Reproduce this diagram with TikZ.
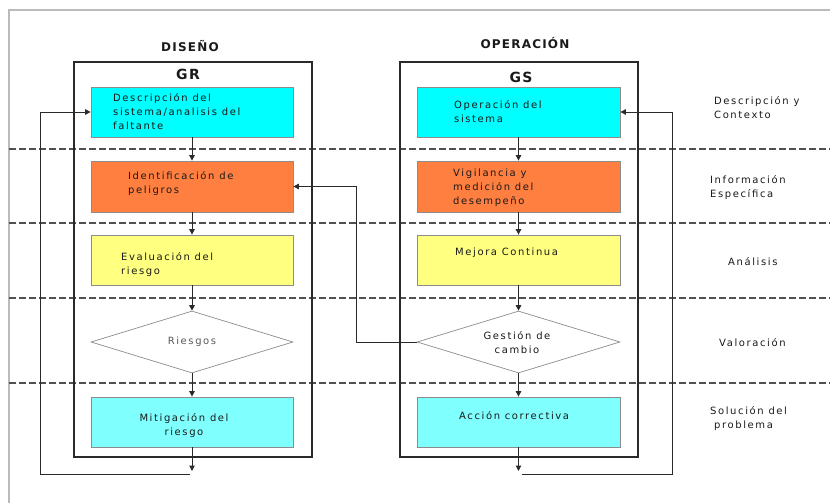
\documentclass[tikz,border=0pt]{standalone}
\usepackage{fontspec}
\setmainfont{DejaVu Sans}
\newfontfamily\lblfont[LetterSpace=16]{DejaVu Sans}
\newfontfamily\ttlfont[LetterSpace=10]{DejaVu Sans}
\usetikzlibrary{arrows.meta,shapes.geometric}
\definecolor{cyanbox}{HTML}{00FFFF}
\definecolor{lightcyanbox}{HTML}{80FFFF}
\definecolor{orangebox}{HTML}{FF7F40}
\definecolor{yellowbox}{HTML}{FFFF80}
\definecolor{boxgray}{HTML}{8C8C8C}
\definecolor{linedark}{HTML}{2A2A2A}
\definecolor{framegray}{HTML}{BBBBBB}
\definecolor{dashgray}{HTML}{505050}
\definecolor{txtdark}{HTML}{1A1A1A}
\begin{document}
\begin{tikzpicture}[x=1pt,y=-1pt,
  box/.style={draw=boxgray, line width=0.8pt, minimum width=202pt, minimum height=50pt, inner sep=0pt},
  dia/.style={diamond, draw=boxgray, line width=0.7pt, fill=white, minimum width=202pt, minimum height=62pt, inner sep=0pt},
  outer/.style={draw=linedark, line width=1.1pt, minimum width=238pt, minimum height=395pt, inner sep=0pt},
  lbl/.style={inner sep=0pt, text=txtdark, font=\lblfont\fontsize{10}{14}\selectfont},
  ttl/.style={inner sep=0pt, text=txtdark, font=\ttlfont\bfseries\fontsize{12}{14}\selectfont},
  ttlbig/.style={inner sep=0pt, text=txtdark, font=\ttlfont\bfseries\fontsize{14}{16}\selectfont},
  flow/.style={draw=linedark, line width=1pt, -{Triangle[length=5.5pt,width=5.5pt]}},
  sep/.style={draw=dashgray, line width=1.2pt, dash pattern=on 7pt off 3pt}
]
\useasboundingbox (0,0) rectangle (830,503);
% frame
\draw[framegray, line width=1.5pt] (830,10) -- (9,10) -- (9,503);
% dashed separators
\foreach \yy in {149,223,298,383} \draw[sep] (9,\yy) -- (830,\yy);
% outer boxes
\node[outer] (GR) at (193,259.5) {};
\node[outer] (GS) at (519,259.5) {};
\node[ttl] (dis) at (190,46) {DISEÑO};
\node[ttl] (ope) at (525,43) {OPERACIÓN};
\node[ttlbig] (grt) at (188,74) {GR};
\node[ttlbig] (gst) at (521,77) {GS};
% left column
\node[box, fill=cyanbox] (l1) at (192,112) {};
\node[box, fill=orangebox, minimum height=51pt] (l2) at (192,186.5) {};
\node[box, fill=yellowbox] (l3) at (192,260) {};
\node[dia] (l4) at (192,342) {};
\node[box, fill=lightcyanbox] (l5) at (192,422) {};
\node[lbl, anchor=west, align=left] (l1t) at (113,112) {Descripción del\\sistema/analisis del\\faltante};
\node[lbl, anchor=west, align=left] (l2t) at (128,184) {Identificación de\\peligros};
\node[lbl, anchor=west, align=left] (l3t) at (121,265) {Evaluación del\\riesgo};
\node[lbl, text=black!65] (l4t) at (192,342) {Riesgos};
\node[lbl, align=center] (l5t) at (184,426) {Mitigación del\\riesgo};
% right column
\node[box, fill=cyanbox, minimum width=203pt] (r1) at (518.5,112) {};
\node[box, fill=orangebox, minimum width=203pt, minimum height=51pt] (r2) at (518.5,186.5) {};
\node[box, fill=yellowbox, minimum width=203pt] (r3) at (518.5,260) {};
\node[dia, minimum width=203pt] (r4) at (518.5,342) {};
\node[box, fill=lightcyanbox, minimum width=203pt] (r5) at (518.5,422) {};
\node[lbl, anchor=west, align=left] (r1t) at (454,111.5) {Operación del\\sistema};
\node[lbl, anchor=west, align=left] (r2t) at (453,188) {Vigilancia y\\medición del\\desempeño};
\node[lbl, anchor=west] (r3t) at (455,253) {Mejora Continua};
\node[lbl, align=center] (r4t) at (517,343) {Gestión de\\cambio};
\node[lbl, anchor=west] (r5t) at (459,416) {Acción correctiva};
% side labels
\node[lbl, anchor=west, align=left] (s1) at (714,108) {Descripción y\\Contexto};
\node[lbl, anchor=west, align=left] (s2) at (710,188) {Información\\Específica};
\node[lbl, anchor=west] (s3) at (728,262) {Análisis};
\node[lbl, anchor=west] (s4) at (719,343) {Valoración};
\node[lbl, anchor=west, align=left] (s5) at (710,419) {Solución del\\\hspace*{4pt}problema};
% vertical flow
\draw[flow] (l1) -- (l2);
\draw[flow] (l2) -- (l3);
\draw[flow] (l3) -- (l4);
\draw[flow] (l4) -- (l5);
\coordinate (lend) at (192,471);
\draw[flow] (l5) -- (lend);
\draw[flow] (r1) -- (r2);
\draw[flow] (r2) -- (r3);
\draw[flow] (r3) -- (r4);
\draw[flow] (r4) -- (r5);
\coordinate (rend) at (518.5,471);
\draw[flow] (r5) -- (rend);
% feedback loops
\coordinate (lb0) at (190,474);
\coordinate (lb1) at (40,474);
\draw[flow] (lb0) -- (lb1) |- (l1.west);
\coordinate (rb0) at (522,474);
\coordinate (rb1) at (672,474);
\draw[flow] (rb0) -- (rb1) |- (r1.east);
% cross link
\coordinate (cx) at (356,342);
\draw[flow] (r4.west) -- (cx) |- (l2.east);
\end{tikzpicture}
\end{document}
